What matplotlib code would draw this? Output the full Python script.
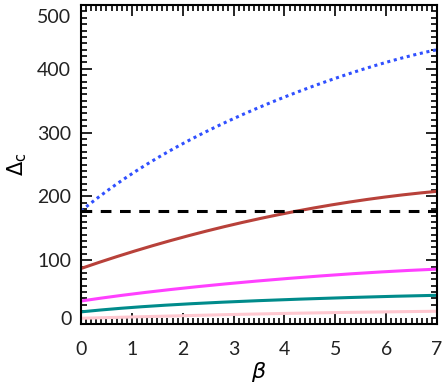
import matplotlib
matplotlib.use("Agg")
import matplotlib.pyplot as plt
import matplotlib.transforms as mtransforms
import numpy as np
from matplotlib.ticker import MultipleLocator

plt.rcParams['font.family'] = ['Lato', 'DejaVu Sans']
plt.rcParams['mathtext.fontset'] = 'dejavusans'

beta = [0, 1, 2, 3, 4, 5, 6, 7]
blue_vals = [177, 236, 282, 322, 356, 385, 410, 430]
red_vals = [87, 113, 136, 156, 173, 188, 199, 208]
magenta_vals = [36, 47, 56, 64, 71, 77, 82, 86]
teal_vals = [19, 26, 31, 35, 38, 41, 43, 45]
pink_vals = [9, 11, 13, 15, 16.5, 18, 19, 20]
dashed_level = 177
yticks = [0, 100, 200, 300, 400, 500]
xticks = [0, 1, 2, 3, 4, 5, 6, 7]

bs = np.linspace(0, 7, 200)
def smooth(v):
    return np.polyval(np.polyfit(beta, v, 4), bs)

fig = plt.figure(figsize=(4.45, 3.9), dpi=100)
ax = fig.add_axes([81/445, 1-324/390, (437-81)/445, (324-5)/390])

lw = 2.2
ax.plot(bs, smooth(pink_vals), color='#ffc8d0', lw=lw)
ax.plot(bs, smooth(teal_vals), color='#008b8b', lw=lw)
ax.plot(bs, smooth(magenta_vals), color='#ff40ff', lw=lw)
ax.plot(bs, smooth(red_vals), color='#b8413a', lw=lw)
ax.plot(bs, smooth(blue_vals), color='#3050ff', lw=lw, linestyle=(0, (1, 1.2)))
ax.axhline(dashed_level, color='black', lw=lw, linestyle=(0, (3.5, 2.8)))

ax.set_xlim(0, 7)
ax.set_ylim(0, 500)
ax.set_xticks(xticks)
ax.set_yticks(yticks)
ax.xaxis.set_minor_locator(MultipleLocator(0.1))
ax.yaxis.set_minor_locator(MultipleLocator(10))
ax.tick_params(which='both', direction='in', top=True, right=True, width=1.2,
               labelcolor='#222222')
ax.tick_params(which='major', length=8, labelsize=14)
ax.tick_params(axis='x', which='major', pad=12)
ax.tick_params(axis='y', which='major', pad=7)
ax.tick_params(which='minor', length=4)
for s in ax.spines.values():
    s.set_linewidth(1.5)

# shift end labels inward like the reference
ticks = ax.yaxis.get_major_ticks()
down = mtransforms.ScaledTranslation(0, -8/72, fig.dpi_scale_trans)
up = mtransforms.ScaledTranslation(0, 4/72, fig.dpi_scale_trans)
ticks[-1].label1.set_transform(ticks[-1].label1.get_transform() + down)
ticks[0].label1.set_transform(ticks[0].label1.get_transform() + up)

ax.set_xlabel(r'$\beta$', fontsize=16, labelpad=2)
ax.set_ylabel(r'$\Delta_{\rm c}$', fontsize=15, labelpad=6)

fig.savefig('out.png', dpi=100)
